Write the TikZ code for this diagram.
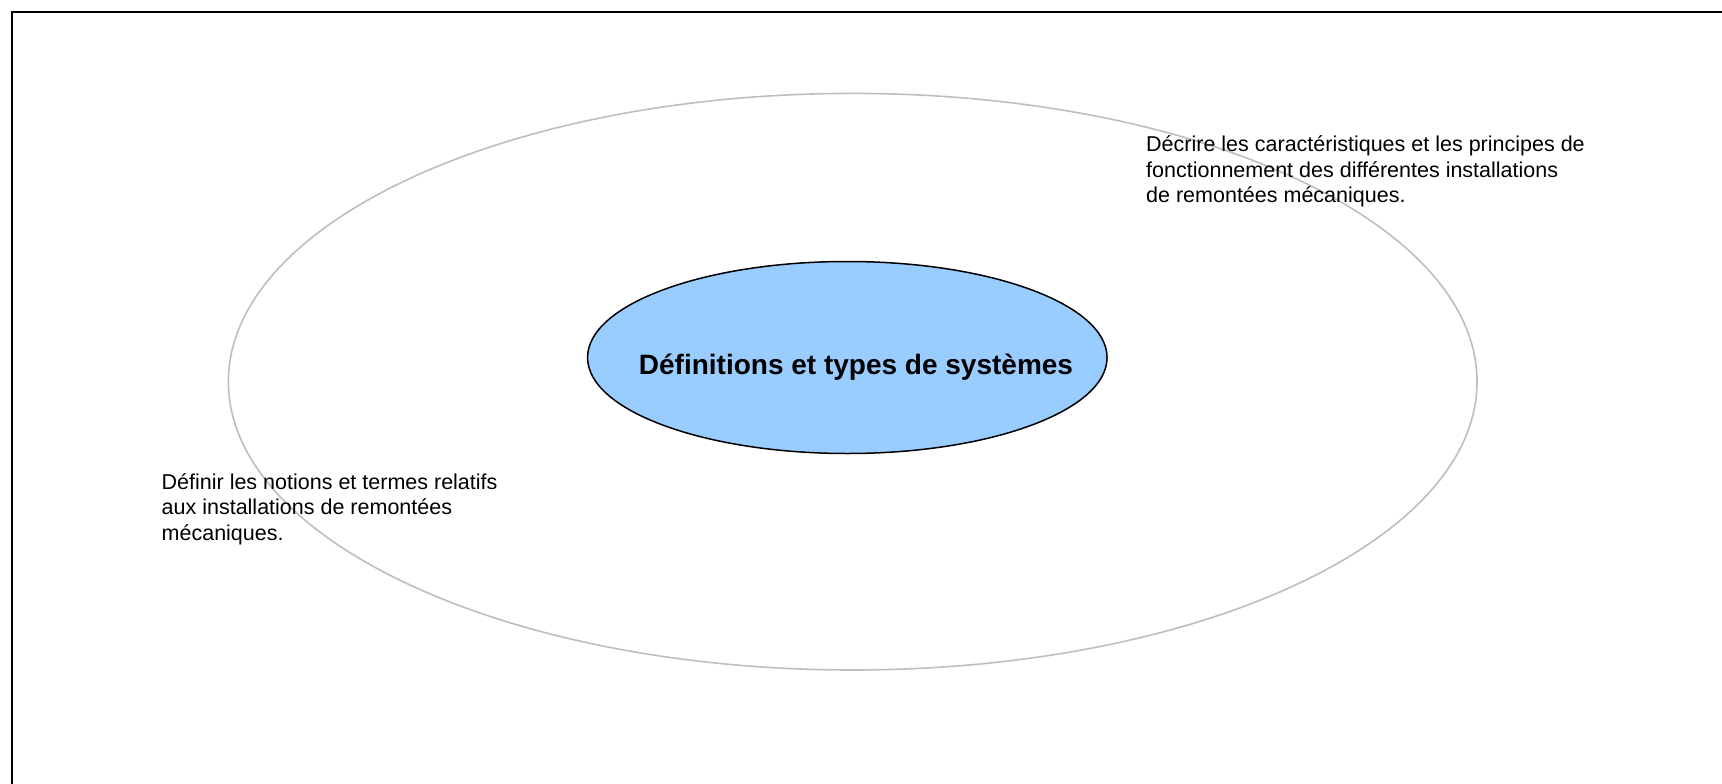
\documentclass[tikz,border=0pt]{standalone}
\usepackage{fontspec}
\usetikzlibrary{shapes.geometric}
\setmainfont{Liberation Sans}
\definecolor{innerblue}{RGB}{153,204,255}
\definecolor{outergray}{RGB}{190,190,190}
\begin{document}
\begin{tikzpicture}[x=1pt,y=-1pt,
  outerring/.style={draw=outergray,line width=1.6pt},
  centreoval/.style={ellipse,draw=black,line width=1.5pt,fill=innerblue,inner sep=0pt},
  goaltext/.style={inner sep=0pt,align=left,font=\fontsize{21.5}{25.5}\selectfont},
  titletext/.style={inner sep=0pt,font=\fontsize{28}{31}\selectfont\bfseries}]
\useasboundingbox (0,0) rectangle (1722,784);
\fill[white] (0,0) rectangle (1722,784);
% frame (only top and left edges are visible)
\coordinate (fbl) at (12.3,800);
\coordinate (ftl) at (12.3,11.7);
\coordinate (ftr) at (1740,11.7);
\draw[line width=2pt] (fbl) -- (ftl) -- (ftr);
% outer ring
\draw[outerring] (852.7,381.7) ellipse [x radius=624.3, y radius=288.3];
% centre oval
\node[centreoval,minimum width=519.5pt,minimum height=192pt] (centre) at (847.3,357.5) {};
\node[titletext,anchor=base] (title) at (856,374.5) {Définitions et types de systèmes};
% goal texts (anchored on the baseline of their last line)
\node[goaltext,anchor=base west] (goalright) at (1146,202.5) {Décrire les caractéristiques et les principes de\\fonctionnement des différentes installations\\de remontées mécaniques.};
\node[goaltext,anchor=base west] (goalleft) at (161.5,540) {Définir les notions et termes relatifs\\aux installations de remontées\\mécaniques.};
\end{tikzpicture}
\end{document}
